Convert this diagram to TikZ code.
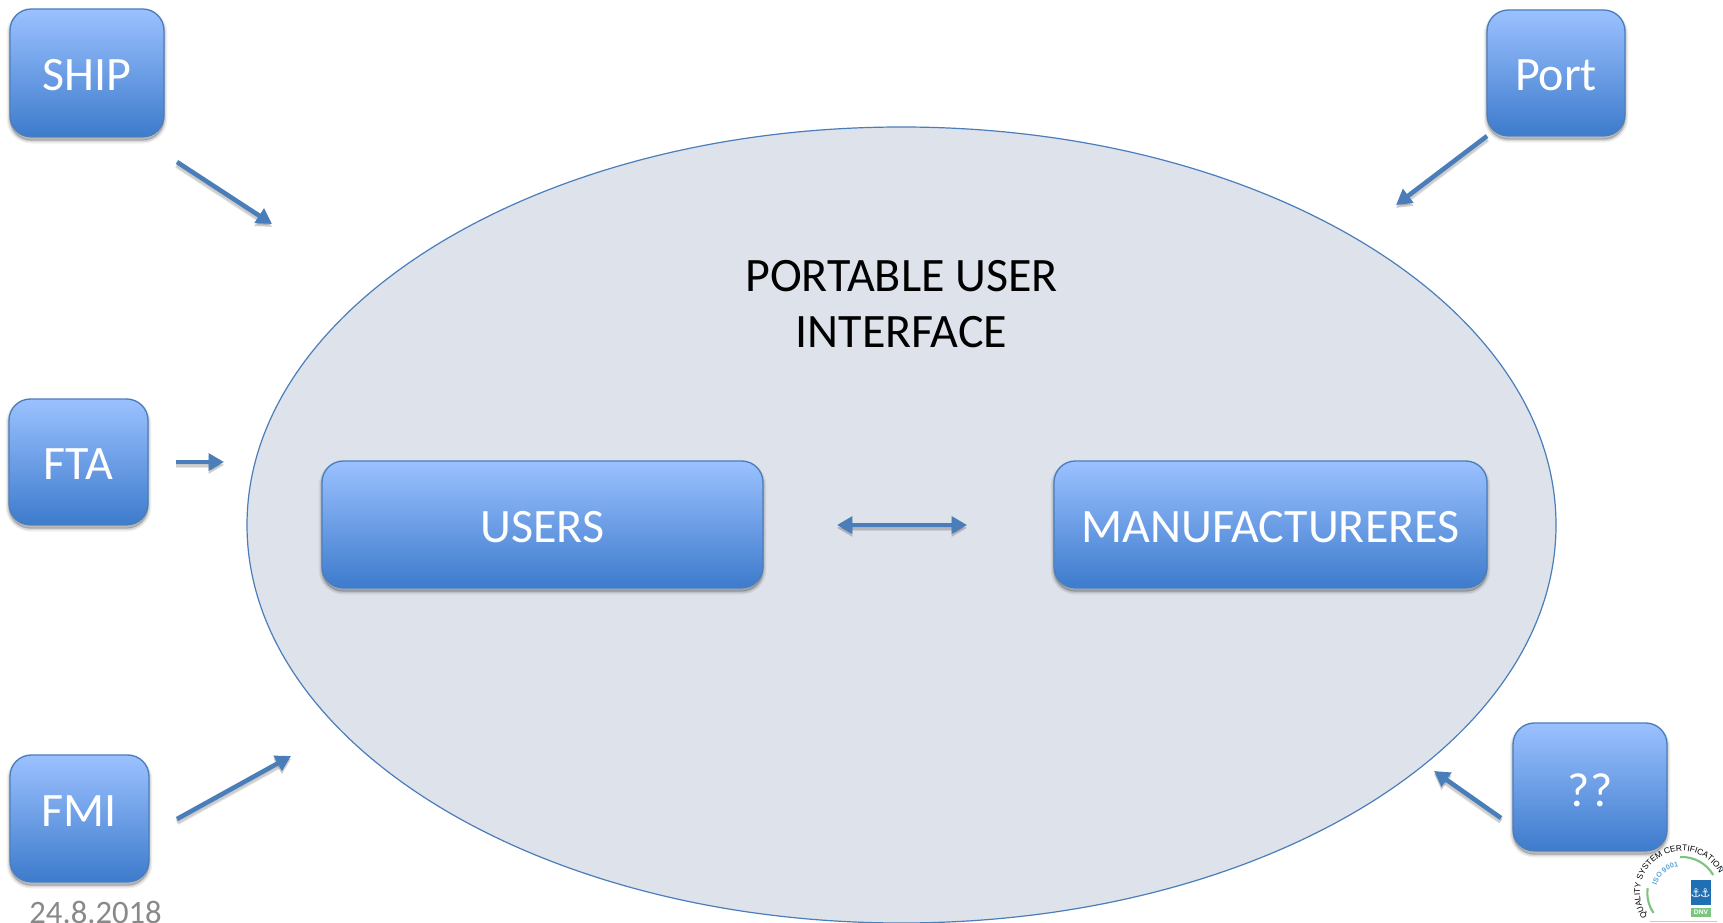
\documentclass[tikz,border=0pt]{standalone}
\usepackage{fontspec}
\setmainfont{Carlito}
\newfontfamily\logofont{Liberation Sans}
\newfontfamily\symfont{DejaVu Sans}
\usetikzlibrary{arrows.meta,decorations.text,shapes.geometric}
\definecolor{lnblue}{HTML}{4A7EBB}
\definecolor{boxtop}{HTML}{9BC1FF}
\definecolor{boxbot}{HTML}{3D7BCC}
\definecolor{ellfill}{HTML}{DEE2EA}
\definecolor{dategray}{HTML}{898989}
\definecolor{logogreen}{HTML}{7CC47F}
\definecolor{logoblue}{HTML}{1F6FB2}
\definecolor{logolight}{HTML}{5AA5DC}
\tikzset{
  x=0.75pt,y=-0.75pt,
  boxshadow/.style={
    preaction={draw=black,draw opacity=.06,line width=5pt,fill=black,fill opacity=.05,transform canvas={yshift=-2.4pt}},
    preaction={draw=black,draw opacity=.09,line width=3pt,fill=black,fill opacity=.05,transform canvas={yshift=-2.4pt}},
    preaction={draw=black,draw opacity=.13,line width=1pt,fill=black,fill opacity=.05,transform canvas={yshift=-2.4pt}}},
  bluebox/.style={rectangle,rounded corners=16pt,draw=lnblue,line width=1pt,top color=boxtop,bottom color=boxbot,
    text=white,font=\fontsize{36pt}{43pt}\selectfont,boxshadow,inner sep=0pt,outer sep=0pt},
  tiponly/.style={{Triangle[length=11.5pt,width=12.5pt]}-{Triangle[length=11.5pt,width=12.5pt]}},
  flowshade/.style={transform canvas={yshift=-2.2pt},draw=black,draw opacity=.10,fill=black,fill opacity=.10},
  flow/.style={draw=lnblue,line width=3.4pt,-{Triangle[length=11.5pt,width=12.5pt]},
    preaction={flowshade,line width=5pt},preaction={flowshade,line width=3.4pt}},
  flowboth/.style={draw=lnblue,line width=3.4pt,tiponly,
    preaction={flowshade,line width=5pt},preaction={flowshade,line width=3.4pt}},
  plain/.style={font=\fontsize{36pt}{42pt}\selectfont,align=center,text=black,inner sep=0pt},
  datelabel/.style={font=\fontsize{24.5pt}{30pt}\selectfont,text=dategray,inner sep=0pt},
}
% name, left, top, right, bottom, text raise, text
\newcommand{\pxbox}[7]{\node[bluebox,minimum width={(#4-#2)*0.75pt},minimum height={(#5-#3)*0.75pt}] (#1) at ({(#2+#4)/2},{(#3+#5)/2}) {\raisebox{#6}[\height][\depth]{#7}};}
\begin{document}
\begin{tikzpicture}
\useasboundingbox (0,0) rectangle (1723,923);
\fill[white] (0,0) rectangle (1723,923);

\node[ellipse,draw=lnblue,line width=0.9pt,fill=ellfill,inner sep=0pt,minimum width=981.75pt,minimum height=597pt] (portal) at (901.5,525) {};
\node[plain] (title) at (901.5,304) {PORTABLE USER\\INTERFACE};

\pxbox{ship}{10}{9}{164}{137}{-1.6pt}{SHIP}
\pxbox{port}{1487}{10}{1625}{136}{-1.6pt}{Port}
\pxbox{fta}{9}{399}{148}{525}{-1.6pt}{FTA}
\pxbox{fmi}{10}{755}{149}{882}{5.8pt}{FMI}
\pxbox{unk}{1513}{723}{1667}{851}{-2.4pt}{??}
\pxbox{users}{322}{461}{763}{588}{-1.6pt}{USERS}
\pxbox{manuf}{1054}{461}{1487}{588}{-1.6pt}{MANUFACTURERES}

\node[datelabel] (date) at (95.6,912) {24.8.2018};

\coordinate (a1s) at (177,162); \coordinate (a1e) at (272,224);
\coordinate (a2s) at (1487,136); \coordinate (a2e) at (1396,205);
\coordinate (a3s) at (176,462); \coordinate (a3e) at (224,462);
\coordinate (a4s) at (177,819); \coordinate (a4e) at (291,756);
\coordinate (a5s) at (1501,818); \coordinate (a5e) at (1434,771);
\coordinate (a6s) at (837,525); \coordinate (a6e) at (967,525);
\draw[flow] (a1s) -- (a1e);
\draw[flow] (a2s) -- (a2e);
\draw[flow] (a3s) -- (a3e);
\draw[flow] (a4s) -- (a4e);
\draw[flow] (a5s) -- (a5e);
\draw[flowboth] (a6s) -- (a6e);

% certification mark
\begin{scope}[shift={(1682,893)},x=1pt,y=1pt]
  \path[postaction={decorate,decoration={text along path,text align=center,
     text={|\logofont\fontsize{6.2pt}{7pt}\selectfont|QUALITY SYSTEM CERTIFICATION}}}]
     (212:31.5pt) arc[start angle=212,end angle=30,radius=31.5pt];
  \path[postaction={decorate,decoration={text along path,text align=center,
     text={|\logofont\bfseries\fontsize{5.4pt}{6pt}\selectfont\color{logolight}|ISO 9001}}}]
     (165:20pt) arc[start angle=165,end angle=95,radius=20pt];
  \draw[logogreen,line width=1.6pt] (93:27pt) arc[start angle=93,end angle=30,radius=27pt];
  \draw[logogreen,line width=1.6pt] (172:26pt) arc[start angle=172,end angle=215,radius=26pt];
  \draw[logolight,line width=1pt] (33:36pt) arc[start angle=33,end angle=22,radius=36pt];
  \draw[logolight!50,line width=0.8pt] (-24pt,-21.7pt) -- (26pt,-21.7pt);
  \fill[logoblue] (6.75pt,-9pt) rectangle (21.75pt,9.75pt);
  \fill[logogreen] (6.75pt,-11.25pt) rectangle (21.75pt,-18pt);
  \node[inner sep=0pt,text=white,font=\symfont\fontsize{9pt}{9pt}\selectfont] (anchorA) at (10.5pt,0pt) {⚓};
  \node[inner sep=0pt,text=white,font=\symfont\fontsize{9pt}{9pt}\selectfont] (anchorB) at (17.5pt,0pt) {⚓};
  \node[inner sep=0pt,text=white,font=\logofont\bfseries\fontsize{5pt}{5pt}\selectfont] (dnv) at (14.25pt,-14.6pt) {DNV};
\end{scope}
\end{tikzpicture}
\end{document}
